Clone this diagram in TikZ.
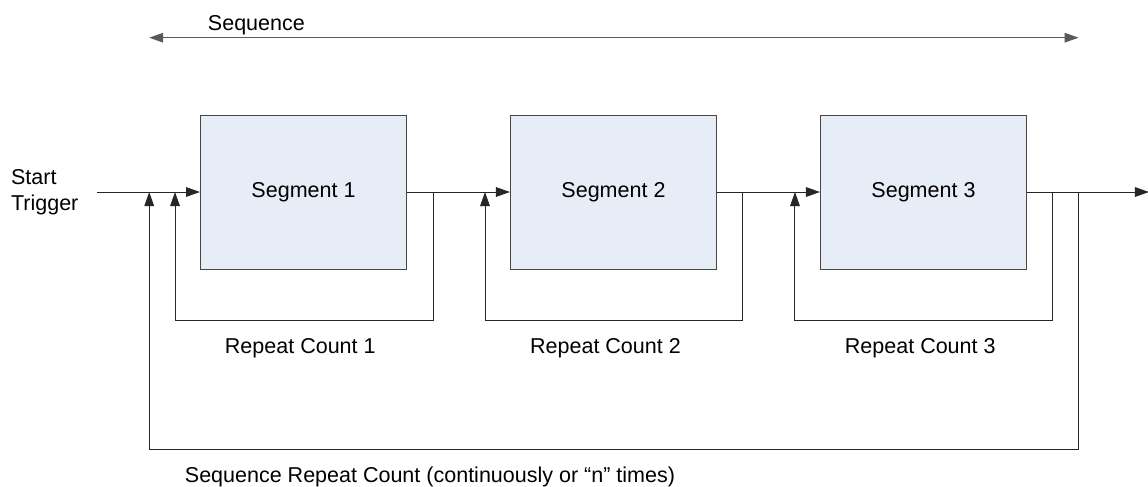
\documentclass[tikz,border=0pt]{standalone}
\usepackage{fontspec}
\setmainfont{Liberation Sans}
\usepackage{xcolor}
\definecolor{segblue}{RGB}{231,237,247}
\definecolor{lgray}{RGB}{70,70,70}
\usetikzlibrary{arrows.meta,positioning}
\newcommand{\lblfont}{\fontsize{15.3}{18.2}\selectfont}

\begin{document}
\begin{tikzpicture}[
  node distance=2.575cm,
  sbox/.style={rectangle,draw=lgray,line width=0.7pt,fill=segblue,minimum width=5.15cm,minimum height=3.85cm,inner sep=0pt,font=\lblfont},
  lbl/.style={inner sep=0pt,font=\lblfont},
  arrow/.style={-{Triangle[length=0.35cm,width=0.24cm]},line width=0.7pt,black!85},
  span/.style={{Triangle[length=0.35cm,width=0.24cm]}-{Triangle[length=0.35cm,width=0.24cm]},line width=0.9pt,black!65}
]
  \useasboundingbox (0,0) rectangle (28.7,-12.15);

  % Segments
  \node[sbox] (seg1) at (7.5875,-4.8) {Segment 1};
  \node[sbox,right=of seg1] (seg2) {Segment 2};
  \node[sbox,right=of seg2] (seg3) {Segment 3};

  % Trigger in / out
  \node[lbl,align=left,anchor=west] (trig) at (0.27,-4.8) {Start\\Trigger};
  \coordinate[left=of seg1.west] (start);
  \coordinate[right=3.05cm of seg3.east] (out);

  % Repeat points
  \coordinate[left=0.625cm of seg1.west] (in1);
  \coordinate[right=0.65cm of seg1.east] (back1);
  \coordinate[left=0.625cm of seg2.west] (in2);
  \coordinate[right=0.65cm of seg2.east] (back2);
  \coordinate[left=0.625cm of seg3.west] (in3);
  \coordinate[right=0.65cm of seg3.east] (back3);
  \coordinate[left=1.27cm of seg1.west] (inall);
  \coordinate[right=1.29cm of seg3.east] (backall);
  \coordinate (seqtop) at (0,-0.9425);

  % Labels
  \node[lbl,anchor=base] (seqlbl) at (6.41,-0.75) {Sequence};
  \node[lbl,below=2.09cm of seg1.south,anchor=base,xshift=-0.08cm] (rc1) {Repeat Count 1};
  \node[lbl,below=2.09cm of seg2.south,anchor=base,xshift=-0.2cm] (rc2) {Repeat Count 2};
  \node[lbl,below=2.09cm of seg3.south,anchor=base,xshift=-0.08cm] (rc3) {Repeat Count 3};
  \node[lbl,anchor=base] (seqrep) at (10.75,-12.05) {Sequence Repeat Count (continuously or “n” times)};

  % Arrows
  \draw[span] (inall |- seqtop) -- (backall |- seqtop);
  \draw[arrow] (start) -- (seg1);
  \draw[arrow] (seg1) -- (seg2);
  \draw[arrow] (seg2) -- (seg3);
  \draw[arrow] (seg3) -- (out);
  \draw[arrow] (back1) -- ++(0,-3.2175) -| (in1);
  \draw[arrow] (back2) -- ++(0,-3.2175) -| (in2);
  \draw[arrow] (back3) -- ++(0,-3.2175) -| (in3);
  \draw[arrow] (backall) -- ++(0,-6.425) -| (inall);
\end{tikzpicture}
\end{document}
